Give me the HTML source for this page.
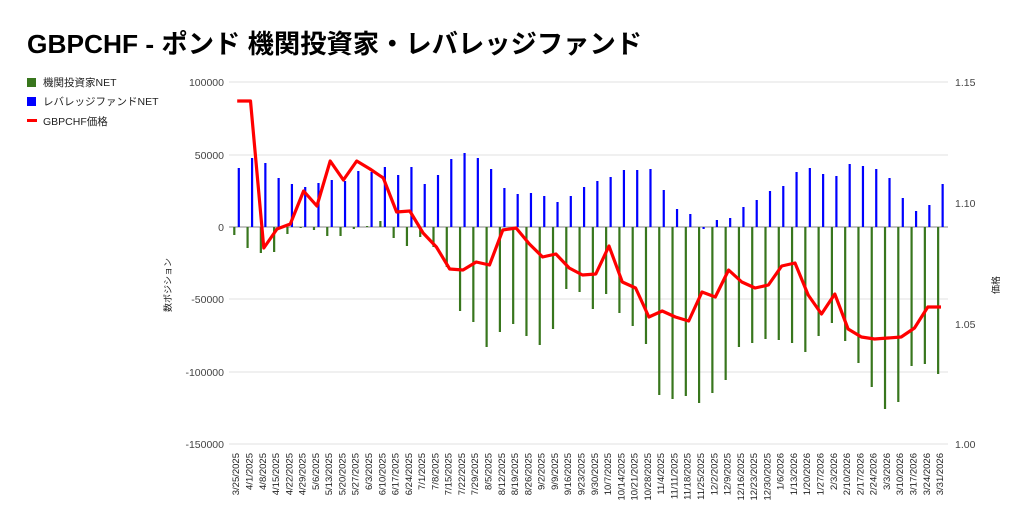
<!DOCTYPE html>
<html><head><meta charset="utf-8"><style>
body{margin:0;background:#fff;width:1024px;height:526px;overflow:hidden}
svg{display:block;font-family:"Liberation Sans","Noto Sans CJK JP",sans-serif}
</style></head><body>
<svg id="s" width="1024" height="526" viewBox="0 0 1024 526">
<text x="27" y="53" font-size="26.3" font-weight="bold" fill="#000">GBPCHF - ポンド 機関投資家・レバレッジファンド</text>
<rect x="27" y="78" width="9" height="9" fill="#38761d"/>
<text x="43" y="86" font-size="10.5" fill="#222">機関投資家NET</text>
<rect x="27" y="97" width="9" height="9" fill="#0000ff"/>
<text x="43" y="105" font-size="10.5" fill="#222">レバレッジファンドNET</text>
<rect x="27" y="119" width="10" height="3" fill="#ff0000"/>
<text x="43" y="125" font-size="10.5" fill="#222">GBPCHF価格</text>
<g id="g"></g>
<text transform="translate(171,285) rotate(-90)" font-size="9" fill="#222" text-anchor="middle">数ポジション</text>
<text transform="translate(999,285) rotate(-90)" font-size="9" fill="#222" text-anchor="middle">価格</text>
</svg>
<script>
var g=document.getElementById('g'),h='';
var ys=[82,155,227,299,372,444],lab=['100000','50000','0','-50000','-100000','-150000'];
for(var k=0;k<6;k++){h+='<line x1="229" x2="948" y1="'+ys[k]+'" y2="'+ys[k]+'" stroke="'+(k==2?'#888':'#e2e2e2')+'" stroke-width="1"/>';
h+='<text x="224" y="'+(ys[k]+4)+'" font-size="10.5" text-anchor="end" fill="#444">'+lab[k]+'</text>';}
var ry=[82,203,324,444],rl=['1.15','1.10','1.05','1.00'];
for(k=0;k<4;k++)h+='<text x="955" y="'+(ry[k]+4)+'" font-size="10.5" fill="#444">'+rl[k]+'</text>';
var blue=[168,158,163,178,184,187,183,180,181,171,172,167,175,167,184,175,159,153,158,169,188,194,193,196,202,196,187,181,177,170,170,169,190,209,214,229,220,218,207,200,191,186,172,168,174,176,164,166,169,178,198,211,205,184];
var green=[235,248,253,252,234,228,230,236,236,229,226,221,238,246,237,247,267,311,322,347,332,324,336,345,329,289,292,309,294,313,326,344,395,399,396,403,393,380,347,343,339,340,343,352,336,323,341,363,387,409,402,366,364,374];
var red=[101,101,248,229,224,191,206,161,180,161,169,178,212,211,233,247,269,270,262,265,230,228,244,257,254,268,275,274,246,282,288,317,311,317,321,292,297,270,282,288,285,266,263,295,314,294,329,337,339,338,337,328,307,307];
var dt=new Date(2025,2,25),pts=[];
for(var i=0;i<54;i++){var x=238.2+13.28*i;
var gy=green[i];h+='<rect x="'+(x-5)+'" y="'+Math.min(227,gy)+'" width="2.2" height="'+Math.abs(gy-227)+'" fill="#38761d"/>';
var by=blue[i];h+='<rect x="'+(x-0.5)+'" y="'+Math.min(227,by)+'" width="2.2" height="'+Math.abs(by-227)+'" fill="#0000ff"/>';
pts.push((x-1).toFixed(1)+','+red[i]);
var t=new Date(dt.getTime()+i*7*864e5);var s=(t.getMonth()+1)+'/'+t.getDate()+'/'+t.getFullYear();
h+='<text transform="translate('+(x+1)+',453) rotate(-90)" font-size="9.5" text-anchor="end" fill="#222">'+s+'</text>';}
h+='<polyline points="'+pts.join(' ')+'" fill="none" stroke="#ff0000" stroke-width="3.2" stroke-linejoin="round"/>';
g.innerHTML=h;
</script>
</body></html>
